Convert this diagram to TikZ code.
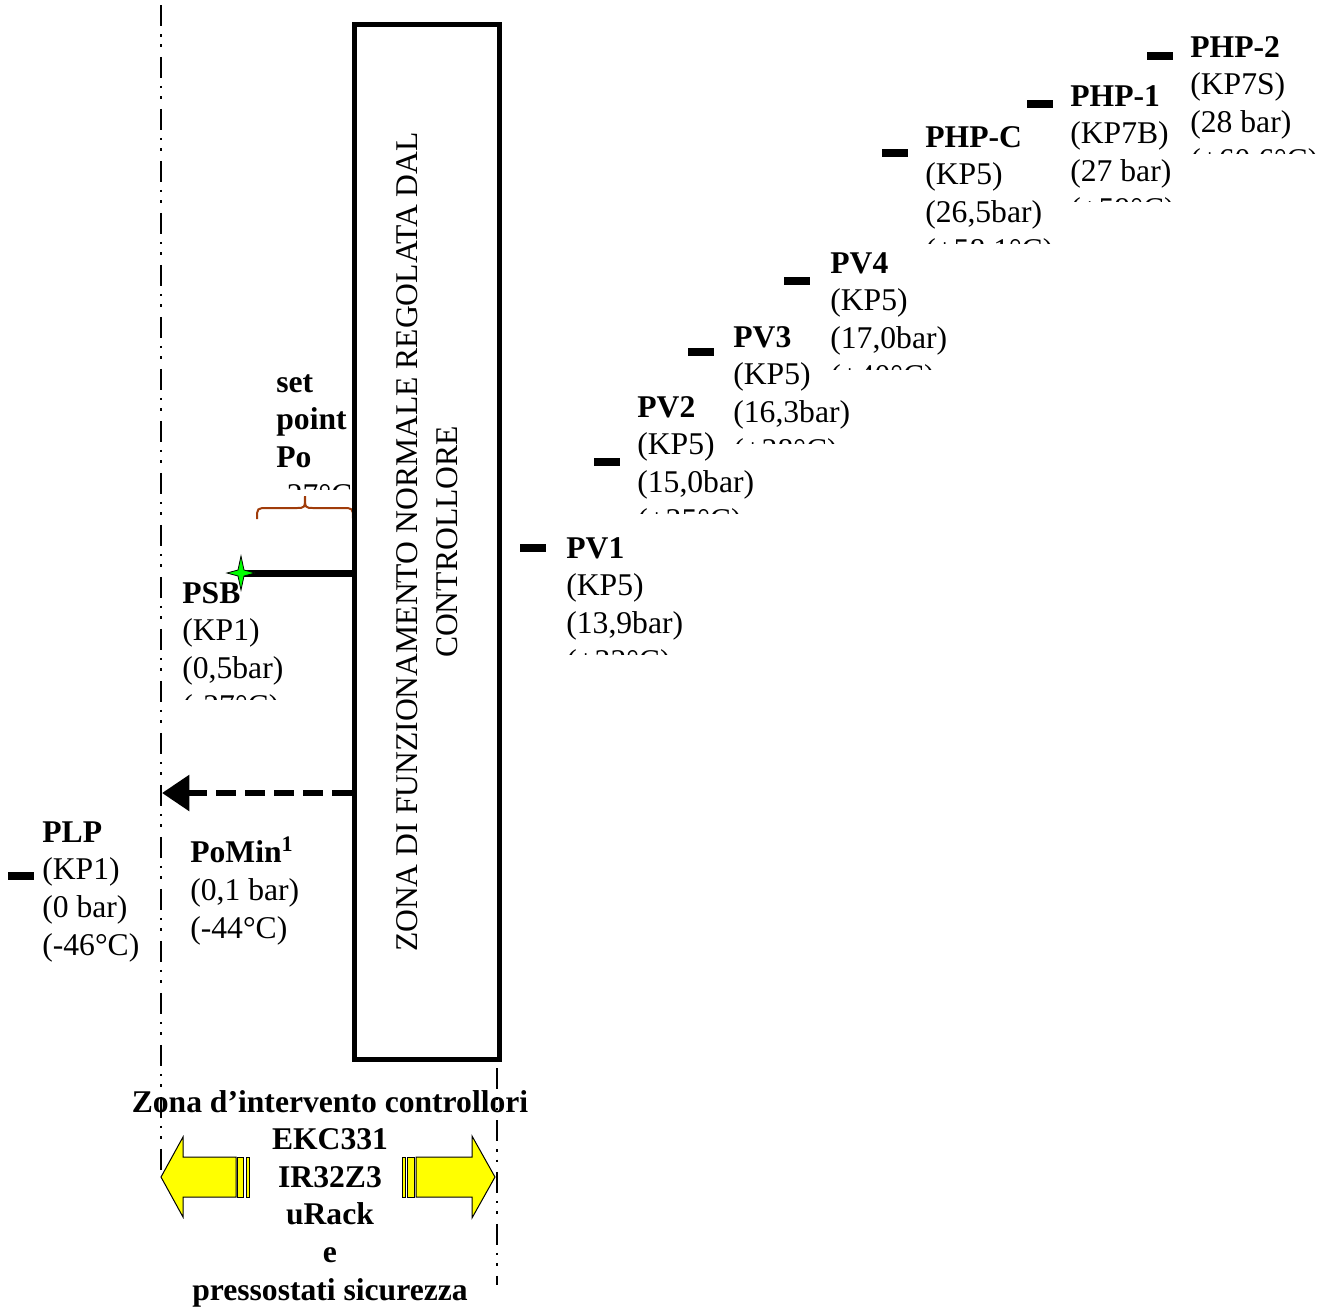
\documentclass[tikz,border=0pt]{standalone}
\usepackage{fontspec}
\setmainfont{Liberation Serif}
\usetikzlibrary{arrows.meta}
\newcommand{\lbl}{\fontsize{18}{21.4}\selectfont}
\definecolor{bracebrown}{RGB}{160,60,10}
\definecolor{arrowyellow}{RGB}{255,255,0}
\definecolor{stargreen}{RGB}{0,255,0}
\tikzset{
  plabel/.style={anchor=base west, align=left, inner sep=0pt, font=\lbl},
  pbar/.style={fill=black, inner sep=0pt, minimum width=0.52cm, minimum height=0.16cm},
  zoneline/.style={line width=0.055cm, dash pattern=on 0.42cm off 0.16cm on 0.05cm off 0.16cm on 0.05cm off 0.2cm},
  zonearrow/.style={draw=black, line width=0.02cm, fill=arrowyellow},
}
\begin{document}
\begin{tikzpicture}[x=0.02cm,y=-0.02cm]
\useasboundingbox (0,0) rectangle (1326,1306);

% dash-dot limits of the controller zone
\coordinate (ltop) at (161,5);
\coordinate (lbot) at (161,1177);
\coordinate (rtop) at (497,1068);
\coordinate (rbot) at (497,1285);
\draw[zoneline] (ltop) -- (lbot);
\draw[zoneline] (rtop) -- (rbot);

% set point (partly hidden by the box)
% (base = last line, so y = first baseline + 3 x 37.7)
\begin{scope}
  \clip (266,350) rectangle (352,489);
  \node[plabel] (setpoint) at (276,505) {\textbf{set}\\\textbf{point}\\\textbf{Po}\\-27°C)};
\end{scope}
\draw[bracebrown, line width=0.04cm] (257,519) .. controls (257,508) .. (268,508) -- (296,508)
  .. controls (305,508) .. (305,496) .. controls (305,508) .. (314,508) -- (342,508)
  .. controls (353,508) .. (353,519);

% box of the normal working zone
\node (zona) [draw, line width=0.11cm, fill=white, inner sep=0pt, minimum width=2.9cm, minimum height=20.7cm] at (427,542) {};
\node[rotate=90, align=center, font=\fontsize{18}{22.7}\selectfont] (zonatext) at (zona.center)
  {ZONA DI FUNZIONAMENTO NORMALE REGOLATA DAL\\CONTROLLORE};

% PSB
\begin{scope}
  \clip (170,570) rectangle (330,699);
  \node[plabel] (psb) at (182,716) {\textbf{PSB}\\(KP1)\\(0,5bar)\\(-27°C)};
\end{scope}
\coordinate (psbstar) at (241,573);
\draw[line width=0.14cm] (zona.west |- psbstar) -- (psbstar);
\filldraw[fill=stargreen, draw=black, line width=0.016cm] (psbstar) ++(0,-17) -- ++(3,14) -- ++(11,3)
  -- ++(-11,3) -- ++(-3,14) -- ++(-3,-14) -- ++(-11,-3) -- ++(11,-3) -- cycle;

% PoMin
\coordinate (pomintip) at (162,793);
\draw[line width=0.13cm, dash pattern=on 0.4cm off 0.18cm, -{Triangle[length=0.55cm, width=0.7cm]}]
  (zona.west |- pomintip) -- (pomintip);
\node[plabel] (pomin) at (190,938) {\textbf{PoMin\textsuperscript{1}}\\(0,1 bar)\\(-44°C)};

% PLP
\node[pbar] (plpbar) at (21,876) {};
\node[plabel] (plp) at (42,955) {\textbf{PLP}\\(KP1)\\(0 bar)\\(-46°C)};

% pressure switches on the high side
\node[pbar] (pvonebar) at (533,548) {};
\begin{scope}
  \clip (556,520) rectangle (780,654);
  \node[plabel] (pvone) at (566,671) {\textbf{PV1}\\(KP5)\\(13,9bar)\\(+32°C)};
\end{scope}
\node[pbar] (pvtwobar) at (607,462) {};
\begin{scope}
  \clip (627,380) rectangle (850,513);
  \node[plabel] (pvtwo) at (637,530) {\textbf{PV2}\\(KP5)\\(15,0bar)\\(+35°C)};
\end{scope}
\node[pbar] (pvthreebar) at (701,352) {};
\begin{scope}
  \clip (723,310) rectangle (950,443);
  \node[plabel] (pvthree) at (733,460) {\textbf{PV3}\\(KP5)\\(16,3bar)\\(+38°C)};
\end{scope}
\node[pbar] (pvfourbar) at (797,281) {};
\begin{scope}
  \clip (820,236) rectangle (1050,369);
  \node[plabel] (pvfour) at (830,386) {\textbf{PV4}\\(KP5)\\(17,0bar)\\(+40°C)};
\end{scope}
\node[pbar] (phpcbar) at (895,153) {};
\begin{scope}
  \clip (915,108) rectangle (1150,243);
  \node[plabel] (phpc) at (925,260) {\textbf{PHP-C}\\(KP5)\\(26,5bar)\\(+58,1°C)};
\end{scope}
\node[pbar] (phponebar) at (1040,104) {};
\begin{scope}
  \clip (1060,66) rectangle (1185,201);
  \node[plabel] (phpone) at (1070,219) {\textbf{PHP-1}\\(KP7B)\\(27 bar)\\(+59°C)};
\end{scope}
\node[pbar] (phptwobar) at (1160,56) {};
\begin{scope}
  \clip (1180,18) rectangle (1326,153);
  \node[plabel] (phptwo) at (1190,170) {\textbf{PHP-2}\\(KP7S)\\(28 bar)\\(+60,6°C)};
\end{scope}

% intervention zone of the controllers
\filldraw[zonearrow] (161,1177) -- (183,1137) -- (183,1157) -- (236,1157) -- (236,1197) -- (183,1197) -- (183,1217) -- cycle;
\filldraw[zonearrow] (237.5,1157) rectangle (243.5,1197);
\filldraw[zonearrow] (246,1157) rectangle (249,1197);
\filldraw[zonearrow] (495,1177) -- (472,1136) -- (472,1157) -- (416,1157) -- (416,1197) -- (472,1197) -- (472,1218) -- cycle;
\filldraw[zonearrow] (407,1157) rectangle (414,1197);
\filldraw[zonearrow] (402,1157) rectangle (405.5,1197);
\node[font=\lbl\bfseries, align=center, anchor=base, inner sep=0pt] (zonatxt) at (330,1300)
  {Zona d’intervento controllori\\EKC331\\IR32Z3\\uRack\\e\\pressostati sicurezza};
\end{tikzpicture}
\end{document}
